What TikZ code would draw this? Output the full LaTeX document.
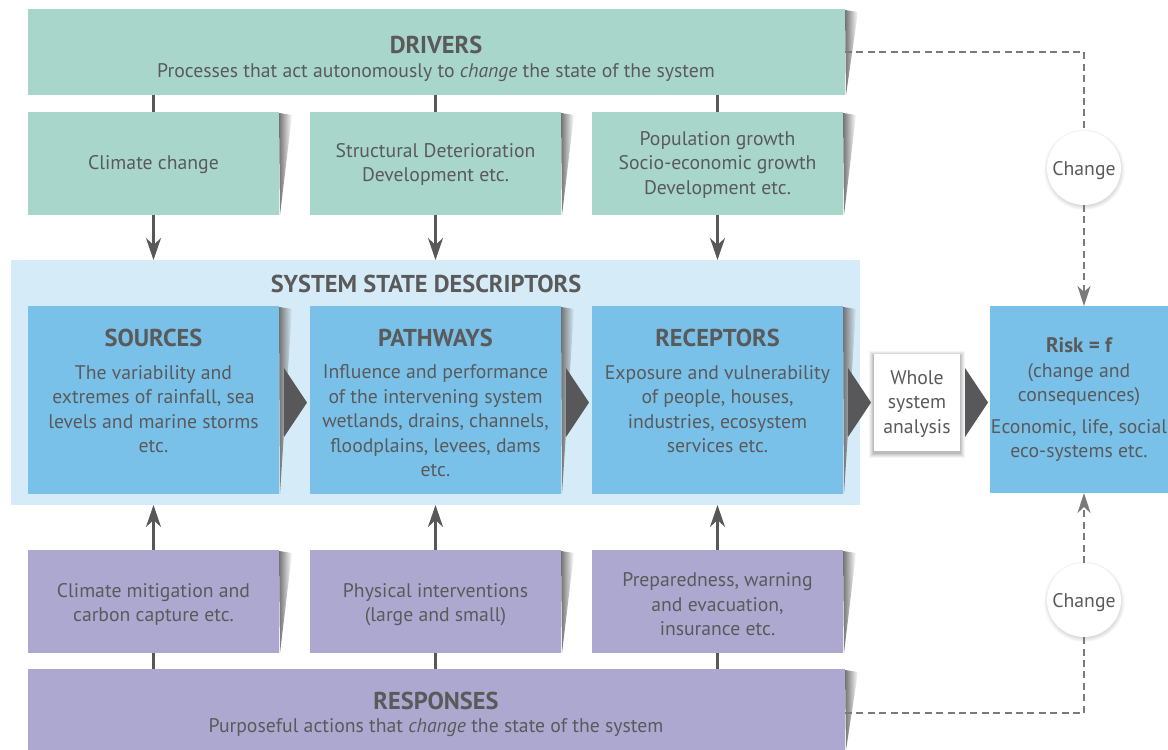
\documentclass[tikz,border=0pt]{standalone}
\usepackage{fontspec}
\setmainfont{PT Sans}
\usetikzlibrary{arrows.meta,fadings,calc,shadows}
\definecolor{drv}{HTML}{A8D6CB}
\definecolor{bluebox}{HTML}{7AC1EA}
\definecolor{bluebg}{HTML}{D6EBF8}
\definecolor{purp}{HTML}{ADA8D0}
\definecolor{txt}{HTML}{5A5A5A}
\definecolor{darkarr}{HTML}{58585A}
\definecolor{dashgray}{HTML}{7A7A7A}
\newcommand\bodyfont{\fontsize{9.85}{12.25}\selectfont}
\newcommand\titlefont{\fontsize{12.2}{14}\selectfont\bfseries}
\newcommand\wedgeshadow[1]{%
  \fill[black!55,path fading=east] ($(#1.north east)+(0,1)$) -- ($(#1.north east)+(13,3)$) -- ($(#1.south east)+(1,0)$) -- cycle;}
\begin{document}
\begin{tikzpicture}[x=0.5pt,y=-0.5pt,
  every node/.style={inner sep=0pt, outer sep=0pt, text=txt},
  greenbig/.style={fill=drv, minimum width=408.5pt, minimum height=43pt},
  greensub/.style={fill=drv, minimum width=125.5pt, minimum height=51.5pt},
  bluesub/.style={fill=bluebox, minimum width=125.5pt, minimum height=94pt},
  purpsub/.style={fill=purp, minimum width=125.5pt, minimum height=51.5pt},
  purpbig/.style={fill=purp, minimum width=408.5pt, minimum height=40.5pt},
  body/.style={font=\bodyfont, align=center},
  ttl/.style={font=\titlefont, align=center},
  ln/.style={draw=darkarr, line width=1.2pt},
  arr/.style={draw=darkarr, line width=1.3pt, -{Stealth[length=11pt,width=7.5pt,inset=3.5pt]}},
  dsh/.style={draw=dashgray, line width=1pt, dash pattern=on 3.5pt off 2.2pt},
  dsharr/.style={dsh, -{Stealth[length=10pt,width=6.5pt,inset=3pt]}},
  chg/.style={circle, fill=white, minimum size=37pt, font=\bodyfont, text depth=0pt,
    circular drop shadow={shadow xshift=0pt, shadow yshift=-0.6pt, shadow scale=1.1, opacity=0.35}},
]
\useasboundingbox (0,0) rectangle (1168,750);

% system state background
\node[fill=bluebg, minimum width=424.5pt, minimum height=122.5pt] (sys) at (435.5,382.5) {};

% drivers
\node[greenbig] (drivers) at (436.5,52) {};
\node[greensub] (d1) at (153.5,163.5) {};
\node[greensub] (d2) at (435.5,163.5) {};
\node[greensub] (d3) at (717.5,163.5) {};

% descriptors
\node[bluesub] (src) at (153.5,400) {};
\node[bluesub] (path) at (435.5,400) {};
\node[bluesub] (rec) at (717.5,400) {};

% responses
\node[purpsub] (r1) at (153.5,601.5) {};
\node[purpsub] (r2) at (435.5,601.5) {};
\node[purpsub] (r3) at (717.5,601.5) {};
\node[purpbig] (responses) at (436.5,709.5) {};

% shadows on the right edges
\foreach \b in {drivers,d1,d2,d3,src,path,rec,r1,r2,r3,responses} {\wedgeshadow{\b}}

% whole system analysis box with soft shadow
\foreach \s/\o in {5/0.04,4/0.05,3/0.06,2/0.07,1/0.08}
  \fill[black,opacity=\o] (874-\s,354-\s+1.5) rectangle (960+\s,451+\s+1.5);
\node[fill=white, minimum width=43pt, minimum height=48.5pt] (wsa) at (917,402.5) {};
\node[fill=bluebox, minimum width=89pt, minimum height=93.5pt] (risk) at (1079,399.5) {};

% big triangles
\fill[darkarr] (284,368) -- (307,402.5) -- (284,437) -- cycle;
\fill[darkarr] (566,368) -- (589,402.5) -- (566,437) -- cycle;
\fill[darkarr] (848,368) -- (871,402.5) -- (848,437) -- cycle;
\fill[darkarr] (965,368) -- (988,402.5) -- (965,437) -- cycle;

% connectors
\foreach \a in {d1,d2,d3} {
  \draw[ln] (drivers.south -| \a.north) -- (\a.north);
  \draw[arr] (\a.south) -- (\a.south |- sys.north);
}
\foreach \a in {r1,r2,r3} {
  \draw[arr] (\a.north) -- (\a.north |- sys.south);
  \draw[ln] (\a.south) -- (responses.north -| \a.south);
}

% change circles
\node[chg] (change1) at (1084,168) {Change};
\node[chg] (change2) at (1084,600) {Change};
\draw[dsh] (drivers.east) -- (drivers.east -| change1.north) -- (change1.north);
\draw[dsharr] (change1.south) -- (change1.south |- risk.north);
\coordinate (rsE) at ($(responses.east)+(0,3.5)$);
\draw[dsh] (rsE) -- (rsE -| change2.south) -- (change2.south);
\draw[dsharr] (change2.north) -- (change2.north |- risk.south);

% texts
\node[ttl] (tdrv) at (436,45) {DRIVERS};
\node[body] (tdrvs) at (436,72.5) {Processes that act autonomously to \emph{change} the state of the system};
\node[body] (td1) at (153.5,164.5) {Climate change};
\node[body] (td2) at (435.5,164.5) {Structural Deterioration\\Development etc.};
\node[body] (td3) at (717.5,164.5) {Population growth\\Socio-economic growth\\Development etc.};

\node[ttl] (tsys) at (426,284) {SYSTEM STATE DESCRIPTORS};
\node[ttl] (tsrc) at (153.5,338) {SOURCES};
\node[body] (tsrcb) at (153.5,409) {The variability and\\extremes of rainfall, sea\\levels and marine storms\\etc.};
\node[ttl] (tpath) at (435.5,338) {PATHWAYS};
\node[body] (tpathb) at (435.5,421) {Influence and performance\\of the intervening system\\wetlands, drains, channels,\\floodplains, levees, dams\\etc.};
\node[ttl] (trec) at (717.5,338) {RECEPTORS};
\node[body] (trecb) at (717.5,409) {Exposure and vulnerability\\of people, houses,\\industries, ecosystem\\services etc.};

\node[body] (twsa) at (917,404) {Whole\\system\\analysis};
\node[body] (trisk) at (1079,400) {{\fontsize{10.5}{12.25}\selectfont\bfseries Risk = f}\\(change and\\consequences)\\[3.5pt]Economic, life, social\\eco-systems etc.};

\node[body] (tr1) at (153.5,604.5) {Climate mitigation and\\carbon capture etc.};
\node[body] (tr2) at (435.5,604.5) {Physical interventions\\(large and small)};
\node[body] (tr3) at (717.5,604.5) {Preparedness, warning\\and evacuation,\\insurance etc.};
\node[ttl] (tresp) at (436,701) {RESPONSES};
\node[body] (tresps) at (436,727.5) {Purposeful actions that \emph{change} the state of the system};
\end{tikzpicture}
\end{document}
